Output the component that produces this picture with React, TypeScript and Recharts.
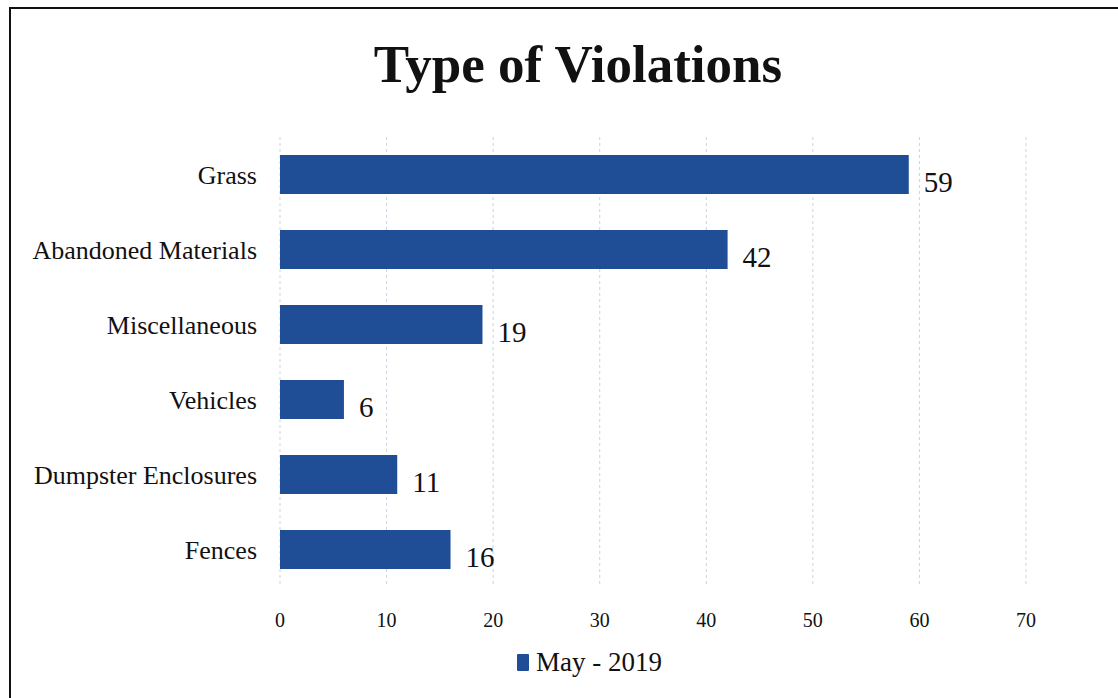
import React from 'react';
import { BarChart, Bar, XAxis, YAxis, CartesianGrid, LabelList } from 'recharts';

const categories = ['Grass', 'Abandoned Materials', 'Miscellaneous', 'Vehicles', 'Dumpster Enclosures', 'Fences'];
const mayValues = [59, 42, 19, 6, 11, 16];
const xTicks = [0, 10, 20, 30, 40, 50, 60, 70];
const seriesName = 'May - 2019';

const data = categories.map((name, i) => ({ name, value: mayValues[i] }));

const FONT = '"Liberation Serif", "DejaVu Serif", serif';
const BAR_COLOR = '#1f4e97';

export default function App() {
  return (
    <div style={{ position: 'absolute', left: 0, top: 0, width: 1118, height: 698, background: '#fff', overflow: 'hidden' }}>
      <div style={{ position: 'absolute', left: 9, top: 7, width: 1200, height: 800, borderLeft: '2px solid #111', borderTop: '2px solid #111' }} />
      <div style={{ position: 'absolute', left: 0, top: 34, width: 1156, textAlign: 'center', fontFamily: FONT, fontWeight: 'bold', fontSize: 53, color: '#111', lineHeight: '60px' }}>
        Type of Violations
      </div>
      <div style={{ position: 'absolute', left: 0, top: 0 }}>
        <BarChart
          width={1118}
          height={698}
          data={data}
          layout="vertical"
          margin={{ top: 137, right: 92, bottom: 51, left: 20 }}
          barCategoryGap="24%"
        >
          <CartesianGrid horizontal={false} stroke="#c9d5e4" strokeDasharray="3 3" />
          <XAxis
            type="number"
            domain={[0, 70]}
            ticks={xTicks}
            axisLine={false}
            tickLine={false}
            tickSize={0}
            tickMargin={26}
            height={60}
            tick={{ fontFamily: FONT, fontSize: 20, fill: '#111' }}
          />
          <YAxis
            type="category"
            dataKey="name"
            width={260}
            axisLine={false}
            tickLine={false}
            tickSize={0}
            tickMargin={23}
            tick={{ fontFamily: FONT, fontSize: 26, fill: '#111' }}
          />
          <Bar dataKey="value" name={seriesName} fill={BAR_COLOR} isAnimationActive={false}>
            <LabelList
              dataKey="value"
              position="right"
              offset={15}
              style={{ fontFamily: FONT, fontSize: 29, fill: '#111' }}
              dy={7}
            />
          </Bar>
        </BarChart>
      </div>
      <div style={{ position: 'absolute', left: 517, top: 647, display: 'flex', alignItems: 'center', fontFamily: FONT, fontSize: 27, color: '#111' }}>
        <span style={{ display: 'inline-block', width: 12, height: 17, background: BAR_COLOR, marginRight: 7, borderRadius: 1 }} />
        {seriesName}
      </div>
    </div>
  );
}
